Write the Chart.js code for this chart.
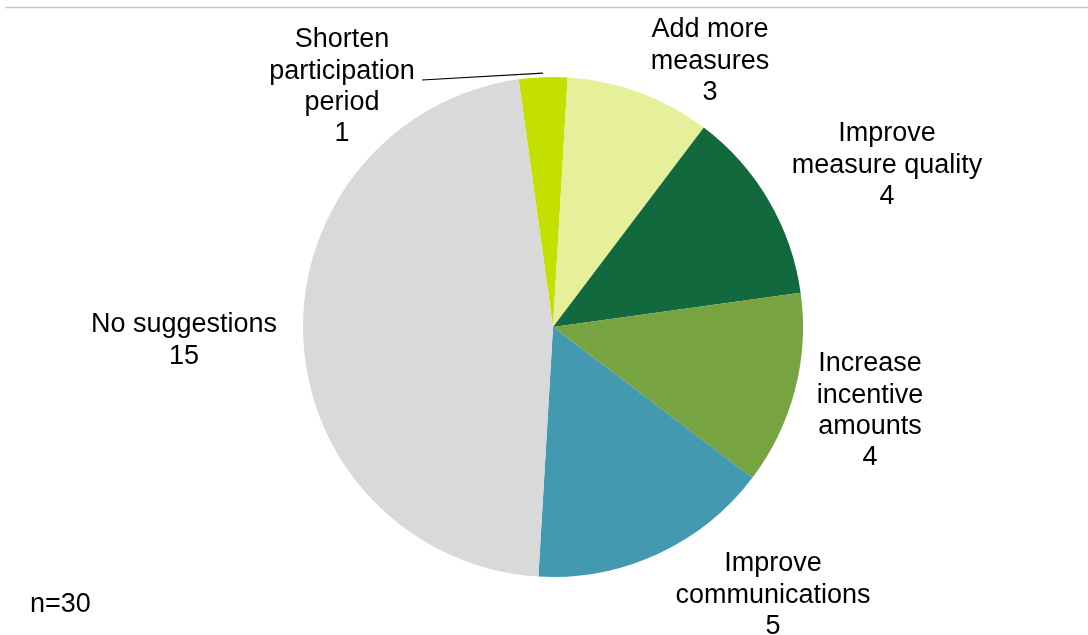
<!DOCTYPE html>
<html>
<head>
<meta charset="utf-8">
<script src="https://cdn.jsdelivr.net/npm/chart.js@4.4.1/dist/chart.umd.min.js"></script>
<style>
  html, body { margin: 0; padding: 0; background: #ffffff; }
  #wrap { width: 1088px; height: 635px; position: relative; }
</style>
</head>
<body>
<div id="wrap"><canvas id="chartSugerencias"></canvas></div>
<script>
// Datos del gráfico
const categorias = ['Shorten participation period', 'Add more measures', 'Improve measure quality',
    'Increase incentive amounts', 'Improve communications', 'No suggestions'];
const valores = [1, 3, 4, 4, 5, 15];
const colores = ['#c4e000', '#e6ef99', '#12693e', '#77a340', '#4299b0', '#d9d9d9'];
const lineasEtiqueta = [
    ['Shorten', 'participation', 'period', '1'],
    ['Add more', 'measures', '3'],
    ['Improve', 'measure quality', '4'],
    ['Increase', 'incentive', 'amounts', '4'],
    ['Improve', 'communications', '5'],
    ['No suggestions', '15']
];
const nota = 'n=30';

// Posición de cada etiqueta (centro x, y de la primera línea)
const posEtiquetas = [[342, 40], [710, 30], [887, 134], [870, 364], [773, 564], [184, 325]];
const altoLinea = 31.3;
const fuente = '27px "Liberation Sans", Arial, sans-serif';

// Plugin para dibujar etiquetas, línea guía y nota
const etiquetasPlugin = {
    id: 'etiquetas',
    afterDraw(chart) {
        const ctx = chart.ctx;
        const arcs = chart.getDatasetMeta(0).data;
        ctx.save();

        // línea superior gris
        ctx.strokeStyle = '#c8c8c8';
        ctx.lineWidth = 1.5;
        ctx.beginPath();
        ctx.moveTo(5, 7.5);
        ctx.lineTo(1088, 7.5);
        ctx.stroke();

        // línea guía para la porción pequeña
        const a = arcs[0];
        const mid = (a.startAngle + a.endAngle) / 2;
        ctx.strokeStyle = '#000000';
        ctx.lineWidth = 1.2;
        ctx.beginPath();
        ctx.moveTo(422, 80);
        ctx.lineTo(a.x + Math.cos(mid) * (a.outerRadius + 4), a.y + Math.sin(mid) * (a.outerRadius + 4));
        ctx.stroke();

        ctx.fillStyle = '#000000';
        ctx.font = fuente;
        ctx.textAlign = 'center';
        ctx.textBaseline = 'middle';
        lineasEtiqueta.forEach((lineas, i) => {
            const [x, y] = posEtiquetas[i];
            lineas.forEach((t, j) => ctx.fillText(t, x, y + j * altoLinea));
        });

        ctx.textAlign = 'left';
        ctx.fillText(nota, 30, 605);
        ctx.restore();
    }
};

const ctx = document.getElementById('chartSugerencias').getContext('2d');
const chartSugerencias = new Chart(ctx, {
    type: 'pie',
    data: {
        labels: categorias,
        datasets: [{
            data: valores,
            backgroundColor: colores,
            borderWidth: 0
        }]
    },
    options: {
        responsive: true,
        maintainAspectRatio: false,
        animation: false,
        rotation: -7.9,
        layout: { padding: { left: 303, right: 285, top: 77, bottom: 58 } },
        plugins: {
            legend: { display: false },
            tooltip: { enabled: false }
        }
    },
    plugins: [etiquetasPlugin]
});
</script>
</body>
</html>
